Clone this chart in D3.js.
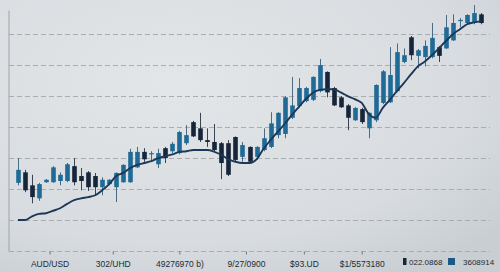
<!DOCTYPE html>
<html>
<head>
<meta charset="utf-8">
<script src="https://cdn.jsdelivr.net/npm/d3@7"></script>
<style>
  html, body { margin: 0; padding: 0; background: #d9dde0; }
  svg { display: block; }
</style>
</head>
<body>
<div id="chart"></div>
<script>
// candles, oldest first
const opens = [0.6460, 0.6477, 0.6456, 0.6435, 0.6461, 0.6461, 0.6463, 0.6463, 0.6487, 0.6471,
  0.6477, 0.6471, 0.6453, 0.6458, 0.6453, 0.6461, 0.6461, 0.6485, 0.6510, 0.6506,
  0.6490, 0.6516, 0.6511, 0.6508, 0.6524, 0.6558, 0.6548, 0.6529, 0.6526, 0.6524,
  0.6524, 0.6534, 0.6502, 0.6518, 0.6502, 0.6513, 0.6518, 0.6537, 0.6539, 0.6565,
  0.6584, 0.6592, 0.6594, 0.6608, 0.6639, 0.6613, 0.6598, 0.6585, 0.6561, 0.6579,
  0.6548, 0.6561, 0.6589, 0.6590, 0.6608, 0.6655, 0.6695, 0.6665, 0.6663, 0.6663,
  0.6679, 0.6677, 0.6690, 0.6721, 0.6718, 0.6718, 0.6732];
const closes = [0.6481, 0.6448, 0.6437, 0.6458, 0.6465, 0.6485, 0.6473, 0.6490, 0.6461, 0.6463,
  0.6453, 0.6453, 0.6465, 0.6465, 0.6476, 0.6489, 0.6510, 0.6510, 0.6498, 0.6508,
  0.6508, 0.6500, 0.6523, 0.6542, 0.6537, 0.6535, 0.6529, 0.6526, 0.6513, 0.6492,
  0.6473, 0.6497, 0.6521, 0.6494, 0.6518, 0.6532, 0.6556, 0.6573, 0.6598, 0.6585,
  0.6613, 0.6613, 0.6631, 0.6650, 0.6606, 0.6585, 0.6582, 0.6565, 0.6581, 0.6558,
  0.6573, 0.6618, 0.6640, 0.6634, 0.6671, 0.6666, 0.6666, 0.6674, 0.6681, 0.6694,
  0.6665, 0.6711, 0.6718, 0.6723, 0.6731, 0.6734, 0.6718];
const highs = [0.6500, 0.6481, 0.6473, 0.6460, 0.6466, 0.6487, 0.6477, 0.6492, 0.6500, 0.6484,
  0.6479, 0.6476, 0.6469, 0.6466, 0.6477, 0.6490, 0.6515, 0.6518, 0.6516, 0.6511,
  0.6515, 0.6518, 0.6526, 0.6544, 0.6553, 0.6560, 0.6573, 0.6548, 0.6555, 0.6526,
  0.6529, 0.6535, 0.6526, 0.6519, 0.6519, 0.6548, 0.6574, 0.6574, 0.6600, 0.6631,
  0.6629, 0.6615, 0.6632, 0.6660, 0.6640, 0.6615, 0.6600, 0.6587, 0.6582, 0.6581,
  0.6574, 0.6619, 0.6642, 0.6679, 0.6685, 0.6677, 0.6697, 0.6676, 0.6690, 0.6718,
  0.6681, 0.6731, 0.6732, 0.6726, 0.6732, 0.6747, 0.6734];
const lows = [0.6456, 0.6445, 0.6427, 0.6431, 0.6460, 0.6460, 0.6456, 0.6461, 0.6456, 0.6448,
  0.6447, 0.6440, 0.6440, 0.6456, 0.6429, 0.6460, 0.6460, 0.6484, 0.6494, 0.6494,
  0.6484, 0.6492, 0.6508, 0.6506, 0.6521, 0.6534, 0.6526, 0.6518, 0.6510, 0.6466,
  0.6471, 0.6495, 0.6494, 0.6492, 0.6497, 0.6511, 0.6516, 0.6532, 0.6532, 0.6563,
  0.6582, 0.6590, 0.6592, 0.6606, 0.6598, 0.6584, 0.6581, 0.6545, 0.6560, 0.6555,
  0.6532, 0.6558, 0.6587, 0.6589, 0.6606, 0.6653, 0.6658, 0.6645, 0.6648, 0.6661,
  0.6655, 0.6676, 0.6689, 0.6711, 0.6716, 0.6716, 0.6716];
// moving average
const maValues = [0.6400, 0.6400, 0.6406, 0.6410, 0.6411, 0.6415, 0.6419, 0.6426, 0.6432, 0.6435,
  0.6437, 0.6440, 0.6448, 0.6458, 0.6471, 0.6476, 0.6484, 0.6489, 0.6492, 0.6495,
  0.6500, 0.6503, 0.6506, 0.6510, 0.6511, 0.6513, 0.6513, 0.6513, 0.6510, 0.6505,
  0.6498, 0.6494, 0.6492, 0.6492, 0.6498, 0.6515, 0.6529, 0.6542, 0.6555, 0.6569,
  0.6582, 0.6595, 0.6605, 0.6610, 0.6611, 0.6611, 0.6606, 0.6600, 0.6595, 0.6589,
  0.6571, 0.6565, 0.6581, 0.6594, 0.6608, 0.6621, 0.6635, 0.6648, 0.6656, 0.6666,
  0.6677, 0.6689, 0.6700, 0.6708, 0.6716, 0.6719, 0.6721];

const gridValues = [0.635, 0.640, 0.645, 0.650, 0.655, 0.660, 0.665, 0.670];
const tickAt = [4.5, 13.5, 23, 32.5, 40.75, 49];
const tickLabels = ["AUD/USD", "302/UHD", "49276970 b)", "9/27/0900", "$93.UD", "$1/5573180"];
const legendLabels = ["022.0868", "3608914"];

const upColor = "#1f6a96";
const downColor = "#17253a";
const lineColor = "#1c3858";

const W = 500, H = 272;

const candles = opens.map((o, i) => ({ i: i, o: o, c: closes[i], h: highs[i], l: lows[i] }));

const svg = d3.select("#chart").append("svg")
    .attr("width", W)
    .attr("height", H);

const defs = svg.append("defs");
const bg = defs.append("radialGradient")
    .attr("id", "bg")
    .attr("cx", "35%").attr("cy", "30%")
    .attr("r", "85%");
bg.append("stop").attr("offset", "0%").attr("stop-color", "#e2e6e8");
bg.append("stop").attr("offset", "70%").attr("stop-color", "#d8dce0");
bg.append("stop").attr("offset", "100%").attr("stop-color", "#c9ced2");

svg.append("rect")
    .attr("width", W)
    .attr("height", H)
    .attr("fill", "url(#bg)");

const x = d3.scaleLinear()
    .domain([0, opens.length - 1])
    .range([18, 481]);

const y = d3.scaleLinear()
    .domain([0.635, 0.6739])
    .range([251, 10]);

// grid
svg.append("g")
    .selectAll("line")
    .data(gridValues)
  .join("line")
    .attr("x1", 9)
    .attr("x2", 490)
    .attr("y1", d => Math.round(y(d)) + 0.5)
    .attr("y2", d => Math.round(y(d)) + 0.5)
    .attr("stroke", "#a7adb1")
    .attr("stroke-width", 1)
    .attr("stroke-dasharray", "5,3");

// left axis line
svg.append("g")
    .attr("transform", "translate(8.5,0)")
    .call(d3.axisLeft(y).tickValues([]).tickSizeOuter(0))
    .call(g => g.select(".domain").attr("stroke", "#9ea4a8"));

// bottom axis ticks + labels
const xAxis = svg.append("g")
    .attr("transform", `translate(0,${Math.round(y(0.635)) + 0.5})`)
    .call(d3.axisBottom(x)
        .tickValues(tickAt)
        .tickFormat((d, i) => tickLabels[i])
        .tickSize(3)
        .tickPadding(6));
xAxis.select(".domain").remove();
xAxis.selectAll(".tick line").attr("stroke", "#6f777d");
xAxis.selectAll(".tick text")
    .attr("fill", "#222a33")
    .style("font-family", "'Liberation Sans', Arial, sans-serif")
    .style("font-size", "8.5px");

// wicks
svg.append("g")
    .selectAll("line")
    .data(candles)
  .join("line")
    .attr("x1", d => Math.round(x(d.i)) + 0.5)
    .attr("x2", d => Math.round(x(d.i)) + 0.5)
    .attr("y1", d => y(d.h))
    .attr("y2", d => y(d.l))
    .attr("stroke", d => d.c >= d.o ? "#4c6b82" : "#3a4452")
    .attr("stroke-width", 1);

// bodies
const bw = 4.6;
svg.append("g")
    .selectAll("rect")
    .data(candles)
  .join("rect")
    .attr("x", d => Math.round(x(d.i)) + 0.5 - bw / 2)
    .attr("y", d => y(Math.max(d.o, d.c)))
    .attr("width", bw)
    .attr("height", d => Math.max(1.2, Math.abs(y(d.o) - y(d.c))))
    .attr("fill", d => d.c >= d.o ? upColor : downColor);

// moving average
const line = d3.line()
    .x((d, i) => x(i))
    .y(d => y(d))
    .curve(d3.curveMonotoneX);

svg.append("path")
    .datum(maValues)
    .attr("d", line)
    .attr("fill", "none")
    .attr("stroke", lineColor)
    .attr("stroke-width", 1.9)
    .attr("stroke-linejoin", "round");

// legend
const legend = svg.append("g")
    .attr("transform", "translate(403,262)");
const items = legend.selectAll("g")
    .data(legendLabels)
  .join("g")
    .attr("transform", (d, i) => `translate(${i * 45},0)`);
items.append("rect")
    .attr("x", 0)
    .attr("y", -4)
    .attr("width", (d, i) => i === 0 ? 3.5 : 7)
    .attr("height", 7)
    .attr("fill", (d, i) => i === 0 ? downColor : "#1b5a85");
items.append("text")
    .attr("x", (d, i) => i === 0 ? 6 : 15)
    .attr("y", 3)
    .attr("fill", "#222a33")
    .style("font-family", "'Liberation Sans', Arial, sans-serif")
    .style("font-size", "8px")
    .text(d => d);
</script>
</body>
</html>
